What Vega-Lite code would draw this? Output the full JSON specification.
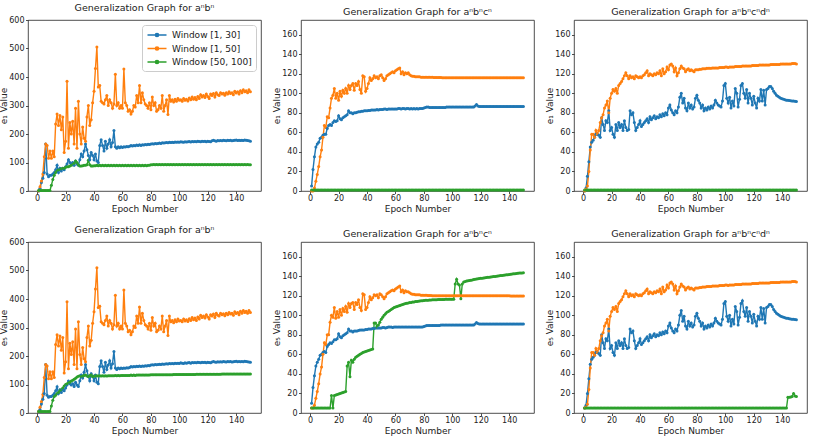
{
  "$schema": "https://vega.github.io/schema/vega-lite/v6.json",
  "background": "white",
  "padding": {"left": -1, "top": 2, "right": 4, "bottom": 0},
  "config": {
    "font": "DejaVu Sans",
    "view": {"stroke": "#222", "strokeWidth": 0.8},
    "axis": {"grid": false, "domain": false, "tickColor": "#222", "tickSize": 2.5, "tickWidth": 0.8, "labelFontSize": 8, "labelColor": "#222", "titleFontSize": 9, "titleFontWeight": "normal", "titleColor": "#222"},
    "axisX": {"labelPadding": 1, "titlePadding": 1.5},
    "axisY": {"labelPadding": 1.5, "titlePadding": 0},
    "title": {"fontSize": 9.5, "fontWeight": "normal", "color": "#222", "offset": 0, "frame": "group"}
  },
  "datasets": {
    "g": [
{"p":1,"x":1,"a":0,"b":0,"c":2},{"p":1,"x":2,"a":10,"b":15,"c":2},{"p":1,"x":3,"a":30,"b":35,"c":2},{"p":1,"x":4,"a":45,"b":60,"c":2},{"p":1,"x":5,"a":65,"b":120,"c":2},
{"p":1,"x":6,"a":165,"b":165,"c":2},{"p":1,"x":7,"a":60,"b":160,"c":2},{"p":1,"x":8,"a":50,"b":115,"c":2},{"p":1,"x":9,"a":55,"b":140,"c":2},{"p":1,"x":10,"a":55,"b":115,"c":20},
{"p":1,"x":11,"a":60,"b":140,"c":40},{"p":1,"x":12,"a":65,"b":120,"c":55},{"p":1,"x":13,"a":75,"b":235,"c":65},{"p":1,"x":14,"a":90,"b":270,"c":70},{"p":1,"x":15,"a":65,"b":230,"c":75},
{"p":1,"x":16,"a":80,"b":265,"c":75},{"p":1,"x":17,"a":70,"b":215,"c":78},{"p":1,"x":18,"a":80,"b":260,"c":80},{"p":1,"x":19,"a":75,"b":135,"c":80},{"p":1,"x":20,"a":85,"b":175,"c":83},
{"p":1,"x":21,"a":95,"b":385,"c":85},{"p":1,"x":22,"a":110,"b":150,"c":85},{"p":1,"x":23,"a":100,"b":240,"c":88},{"p":1,"x":24,"a":95,"b":200,"c":90},{"p":1,"x":25,"a":100,"b":245,"c":92},
{"p":1,"x":26,"a":90,"b":165,"c":97},{"p":1,"x":27,"a":105,"b":290,"c":105},{"p":1,"x":28,"a":95,"b":150,"c":100},{"p":1,"x":29,"a":90,"b":315,"c":92},{"p":1,"x":30,"a":110,"b":200,"c":88},
{"p":1,"x":31,"a":130,"b":165,"c":88},{"p":1,"x":32,"a":120,"b":225,"c":89},{"p":1,"x":33,"a":140,"b":185,"c":90},{"p":1,"x":34,"a":165,"b":175,"c":90},{"p":1,"x":35,"a":145,"b":260,"c":92},
{"p":1,"x":36,"a":125,"b":300,"c":108},{"p":1,"x":37,"a":110,"b":230,"c":92},{"p":1,"x":38,"a":135,"b":250,"c":88},{"p":1,"x":39,"a":125,"b":310,"c":88},{"p":1,"x":40,"a":110,"b":350,"c":89},
{"p":1,"x":41,"a":130,"b":430,"c":89},{"p":1,"x":42,"a":105,"b":505,"c":90},{"p":1,"x":43,"a":100,"b":365,"c":89},{"p":1,"x":44,"a":160,"b":370,"c":90},{"p":1,"x":45,"a":180,"b":315,"c":89},
{"p":1,"x":46,"a":160,"b":310,"c":90},{"p":1,"x":47,"a":140,"b":305,"c":89},{"p":1,"x":48,"a":175,"b":320,"c":90},{"p":1,"x":49,"a":150,"b":335,"c":89},{"p":1,"x":50,"a":165,"b":300,"c":90},
{"p":1,"x":51,"a":180,"b":320,"c":89},{"p":1,"x":52,"a":155,"b":310,"c":90},{"p":1,"x":53,"a":170,"b":290,"c":89},{"p":1,"x":54,"a":212,"b":305,"c":90},{"p":1,"x":55,"a":155,"b":410,"c":89},
{"p":1,"x":56,"a":150,"b":300,"c":90},{"p":1,"x":57,"a":155,"b":310,"c":89},{"p":1,"x":58,"a":152,"b":290,"c":90},{"p":1,"x":59,"a":155,"b":300,"c":89},{"p":1,"x":60,"a":153,"b":290,"c":90},
{"p":1,"x":61,"a":155,"b":428,"c":89},{"p":1,"x":62,"a":154,"b":310,"c":90},{"p":1,"x":63,"a":156,"b":300,"c":89},{"p":1,"x":64,"a":155,"b":280,"c":90},{"p":1,"x":65,"a":157,"b":285,"c":89},
{"p":1,"x":66,"a":160,"b":270,"c":90},{"p":1,"x":67,"a":158,"b":280,"c":89},{"p":1,"x":68,"a":160,"b":300,"c":90},{"p":1,"x":69,"a":159,"b":295,"c":89},{"p":1,"x":70,"a":161,"b":335,"c":90},
{"p":1,"x":71,"a":160,"b":310,"c":89},{"p":1,"x":72,"a":162,"b":370,"c":90},{"p":1,"x":73,"a":160,"b":310,"c":89},{"p":1,"x":74,"a":162,"b":345,"c":90},{"p":1,"x":75,"a":161,"b":320,"c":89},
{"p":1,"x":76,"a":163,"b":305,"c":90},{"p":1,"x":77,"a":162,"b":300,"c":89},{"p":1,"x":78,"a":164,"b":290,"c":90},{"p":1,"x":79,"a":163,"b":310,"c":90},{"p":1,"x":80,"a":165,"b":285,"c":92},
{"p":1,"x":81,"a":166,"b":330,"c":92},{"p":1,"x":82,"a":165,"b":300,"c":93},{"p":1,"x":83,"a":167,"b":310,"c":92},{"p":1,"x":84,"a":166,"b":280,"c":93},{"p":1,"x":85,"a":167,"b":285,"c":92},
{"p":1,"x":86,"a":168,"b":300,"c":93},{"p":1,"x":87,"a":167,"b":290,"c":92},{"p":1,"x":88,"a":169,"b":335,"c":93},{"p":1,"x":89,"a":168,"b":280,"c":92},{"p":1,"x":90,"a":169,"b":300,"c":93},
{"p":1,"x":91,"a":170,"b":320,"c":92},{"p":1,"x":92,"a":169,"b":268,"c":93},{"p":1,"x":93,"a":171,"b":335,"c":92},{"p":1,"x":94,"a":170,"b":315,"c":93},{"p":1,"x":95,"a":171,"b":320,"c":92},
{"p":1,"x":96,"a":170,"b":312,"c":93},{"p":1,"x":97,"a":172,"b":322,"c":92},{"p":1,"x":98,"a":171,"b":315,"c":93},{"p":1,"x":99,"a":172,"b":325,"c":92},{"p":1,"x":100,"a":171,"b":318,"c":93},
{"p":1,"x":101,"a":173,"b":320,"c":92},{"p":1,"x":102,"a":172,"b":315,"c":93},{"p":1,"x":103,"a":171,"b":325,"c":92},{"p":1,"x":104,"a":173,"b":318,"c":93},{"p":1,"x":105,"a":172,"b":322,"c":92},
{"p":1,"x":106,"a":173,"b":316,"c":93},{"p":1,"x":107,"a":174,"b":326,"c":92},{"p":1,"x":108,"a":172,"b":320,"c":93},{"p":1,"x":109,"a":174,"b":330,"c":92},{"p":1,"x":110,"a":173,"b":322,"c":93},
{"p":1,"x":111,"a":174,"b":328,"c":92},{"p":1,"x":112,"a":173,"b":320,"c":93},{"p":1,"x":113,"a":175,"b":332,"c":92},{"p":1,"x":114,"a":174,"b":325,"c":93},{"p":1,"x":115,"a":173,"b":338,"c":92},
{"p":1,"x":116,"a":175,"b":330,"c":93},{"p":1,"x":117,"a":174,"b":335,"c":92},{"p":1,"x":118,"a":175,"b":328,"c":93},{"p":1,"x":119,"a":173,"b":340,"c":92},{"p":1,"x":120,"a":175,"b":332,"c":93},
{"p":1,"x":121,"a":174,"b":325,"c":92},{"p":1,"x":122,"a":173,"b":340,"c":93},{"p":1,"x":123,"a":176,"b":335,"c":92},{"p":1,"x":124,"a":178,"b":342,"c":93},{"p":1,"x":125,"a":176,"b":330,"c":92},
{"p":1,"x":126,"a":175,"b":345,"c":93},{"p":1,"x":127,"a":177,"b":338,"c":92},{"p":1,"x":128,"a":176,"b":335,"c":93},{"p":1,"x":129,"a":177,"b":345,"c":92},{"p":1,"x":130,"a":176,"b":340,"c":93},
{"p":1,"x":131,"a":178,"b":343,"c":92},{"p":1,"x":132,"a":177,"b":336,"c":93},{"p":1,"x":133,"a":176,"b":345,"c":92},{"p":1,"x":134,"a":178,"b":340,"c":93},{"p":1,"x":135,"a":177,"b":348,"c":92},
{"p":1,"x":136,"a":178,"b":342,"c":93},{"p":1,"x":137,"a":176,"b":345,"c":92},{"p":1,"x":138,"a":177,"b":338,"c":93},{"p":1,"x":139,"a":178,"b":350,"c":92},{"p":1,"x":140,"a":179,"b":344,"c":93},
{"p":1,"x":141,"a":177,"b":348,"c":92},{"p":1,"x":142,"a":178,"b":340,"c":93},{"p":1,"x":143,"a":177,"b":352,"c":92},{"p":1,"x":144,"a":178,"b":345,"c":93},{"p":1,"x":145,"a":177,"b":355,"c":92},
{"p":1,"x":146,"a":179,"b":348,"c":93},{"p":1,"x":147,"a":178,"b":352,"c":92},{"p":1,"x":148,"a":177,"b":345,"c":93},{"p":1,"x":149,"a":176,"b":355,"c":92},{"p":1,"x":150,"a":175,"b":348,"c":92},

{"p":2,"x":1,"a":5,"b":0,"c":1},{"p":2,"x":2,"a":22,"b":0,"c":1},{"p":2,"x":3,"a":35,"b":3,"c":1},{"p":2,"x":4,"a":45,"b":10,"c":1},{"p":2,"x":5,"a":48,"b":17,"c":1},
{"p":2,"x":6,"a":50,"b":25,"c":1},{"p":2,"x":7,"a":54,"b":35,"c":1},{"p":2,"x":8,"a":55,"b":42,"c":1},{"p":2,"x":9,"a":57,"b":55,"c":1},{"p":2,"x":10,"a":58,"b":67,"c":1},
{"p":2,"x":11,"a":58,"b":65,"c":1},{"p":2,"x":12,"a":64,"b":76,"c":1},{"p":2,"x":13,"a":67,"b":75,"c":1},{"p":2,"x":14,"a":68,"b":85,"c":1},{"p":2,"x":15,"a":67,"b":95,"c":1},
{"p":2,"x":16,"a":70,"b":98,"c":1},{"p":2,"x":17,"a":72,"b":105,"c":1},{"p":2,"x":18,"a":71,"b":95,"c":1},{"p":2,"x":19,"a":72,"b":100,"c":1},{"p":2,"x":20,"a":77,"b":93,"c":1},
{"p":2,"x":21,"a":74,"b":102,"c":1},{"p":2,"x":22,"a":73,"b":97,"c":1},{"p":2,"x":23,"a":75,"b":103,"c":1},{"p":2,"x":24,"a":76,"b":100,"c":1},{"p":2,"x":25,"a":77,"b":105,"c":1},
{"p":2,"x":26,"a":78,"b":100,"c":1},{"p":2,"x":27,"a":82,"b":108,"c":1},{"p":2,"x":28,"a":80,"b":104,"c":1},{"p":2,"x":29,"a":80,"b":108,"c":1},{"p":2,"x":30,"a":79,"b":110,"c":1},
{"p":2,"x":31,"a":80,"b":103,"c":1},{"p":2,"x":32,"a":80,"b":110,"c":1},{"p":2,"x":33,"a":80.5,"b":108,"c":1},{"p":2,"x":34,"a":81,"b":112,"c":1},{"p":2,"x":35,"a":81,"b":104,"c":1},
{"p":2,"x":36,"a":81.5,"b":100,"c":1},{"p":2,"x":37,"a":81.5,"b":118,"c":1},{"p":2,"x":38,"a":82,"b":117,"c":1},{"p":2,"x":39,"a":82,"b":102,"c":1},{"p":2,"x":40,"a":82,"b":105,"c":1},
{"p":2,"x":41,"a":82.5,"b":110,"c":1},{"p":2,"x":42,"a":82.5,"b":116,"c":1},{"p":2,"x":43,"a":83,"b":113,"c":1},{"p":2,"x":44,"a":83,"b":115,"c":1},{"p":2,"x":45,"a":83,"b":118,"c":1},
{"p":2,"x":46,"a":83,"b":116,"c":1},{"p":2,"x":47,"a":83.5,"b":117,"c":1},{"p":2,"x":48,"a":83,"b":115,"c":1},{"p":2,"x":49,"a":83.5,"b":118,"c":1},{"p":2,"x":50,"a":83.5,"b":119,"c":1},
{"p":2,"x":51,"a":83.5,"b":116,"c":1},{"p":2,"x":52,"a":84,"b":113,"c":1},{"p":2,"x":53,"a":84,"b":115,"c":1},{"p":2,"x":54,"a":83.5,"b":118,"c":1},{"p":2,"x":55,"a":84,"b":119,"c":1},
{"p":2,"x":56,"a":84,"b":120,"c":1},{"p":2,"x":57,"a":84,"b":121,"c":1},{"p":2,"x":58,"a":84,"b":122,"c":1},{"p":2,"x":59,"a":84,"b":121,"c":1},{"p":2,"x":60,"a":84,"b":123,"c":1},
{"p":2,"x":61,"a":84,"b":124,"c":1},{"p":2,"x":62,"a":84.5,"b":125,"c":1},{"p":2,"x":63,"a":84.5,"b":126,"c":1},{"p":2,"x":64,"a":84,"b":120,"c":1},{"p":2,"x":65,"a":84.5,"b":122,"c":1},
{"p":2,"x":66,"a":84.5,"b":119,"c":1},{"p":2,"x":67,"a":84,"b":121,"c":1},{"p":2,"x":68,"a":84.5,"b":120,"c":1},{"p":2,"x":69,"a":84.5,"b":121,"c":1},{"p":2,"x":70,"a":84,"b":119,"c":1},
{"p":2,"x":71,"a":84.5,"b":118,"c":1},{"p":2,"x":72,"a":84,"b":117.5,"c":1},{"p":2,"x":73,"a":84.5,"b":117.5,"c":1},{"p":2,"x":74,"a":84,"b":117,"c":1},{"p":2,"x":75,"a":84.5,"b":117,"c":1},
{"p":2,"x":76,"a":84,"b":117,"c":1},{"p":2,"x":77,"a":84.5,"b":117,"c":1},{"p":2,"x":78,"a":84.5,"b":116.5,"c":1},{"p":2,"x":79,"a":84.5,"b":116.5,"c":1},{"p":2,"x":80,"a":85,"b":116.5,"c":1},
{"p":2,"x":81,"a":85.5,"b":116.5,"c":1},{"p":2,"x":82,"a":86,"b":116.5,"c":1},{"p":2,"x":83,"a":86,"b":116.5,"c":1},{"p":2,"x":84,"a":85.5,"b":116.5,"c":1},{"p":2,"x":85,"a":85.5,"b":116.3,"c":1},
{"p":2,"x":86,"a":85.5,"b":116.3,"c":1},{"p":2,"x":87,"a":85.5,"b":116.2,"c":1},{"p":2,"x":88,"a":85.5,"b":116.2,"c":1},{"p":2,"x":89,"a":85.5,"b":116.2,"c":1},{"p":2,"x":90,"a":85.5,"b":116.1,"c":1},
{"p":2,"x":91,"a":85.5,"b":116.1,"c":1},{"p":2,"x":92,"a":85.5,"b":116.1,"c":1},{"p":2,"x":93,"a":85.5,"b":116,"c":1},{"p":2,"x":94,"a":85.5,"b":116,"c":1},{"p":2,"x":95,"a":85.5,"b":116,"c":1},
{"p":2,"x":96,"a":86,"b":116,"c":1},{"p":2,"x":97,"a":86,"b":116,"c":1},{"p":2,"x":98,"a":86,"b":116,"c":1},{"p":2,"x":99,"a":86,"b":116,"c":1},{"p":2,"x":100,"a":86,"b":116,"c":1},
{"p":2,"x":101,"a":86,"b":116,"c":1},{"p":2,"x":102,"a":86,"b":116,"c":1},{"p":2,"x":103,"a":86,"b":116,"c":1},{"p":2,"x":104,"a":86,"b":116,"c":1},{"p":2,"x":105,"a":86,"b":116,"c":1},
{"p":2,"x":106,"a":86,"b":116,"c":1},{"p":2,"x":107,"a":86,"b":116,"c":1},{"p":2,"x":108,"a":86,"b":116,"c":1},{"p":2,"x":109,"a":86,"b":116,"c":1},{"p":2,"x":110,"a":86,"b":116,"c":1},
{"p":2,"x":111,"a":86,"b":116,"c":1},{"p":2,"x":112,"a":86,"b":116,"c":1},{"p":2,"x":113,"a":86,"b":116,"c":1},{"p":2,"x":114,"a":86,"b":116,"c":1},{"p":2,"x":115,"a":86,"b":116,"c":1},
{"p":2,"x":116,"a":87,"b":116,"c":1},{"p":2,"x":117,"a":88.5,"b":116,"c":1},{"p":2,"x":118,"a":87,"b":116,"c":1},{"p":2,"x":119,"a":86.5,"b":116,"c":1},{"p":2,"x":120,"a":86.5,"b":116,"c":1},
{"p":2,"x":121,"a":86.5,"b":116,"c":1},{"p":2,"x":122,"a":86.5,"b":116,"c":1},{"p":2,"x":123,"a":86.5,"b":116,"c":1},{"p":2,"x":124,"a":86.5,"b":116,"c":1},{"p":2,"x":125,"a":86.5,"b":116,"c":1},
{"p":2,"x":126,"a":86.5,"b":116,"c":1},{"p":2,"x":127,"a":86.5,"b":116,"c":1},{"p":2,"x":128,"a":86.5,"b":116,"c":1},{"p":2,"x":129,"a":86.5,"b":116,"c":1},{"p":2,"x":130,"a":86.5,"b":116,"c":1},
{"p":2,"x":131,"a":86.5,"b":116,"c":1},{"p":2,"x":132,"a":86.5,"b":116,"c":1},{"p":2,"x":133,"a":86.5,"b":116,"c":1},{"p":2,"x":134,"a":86.5,"b":116,"c":1},{"p":2,"x":135,"a":86.5,"b":116,"c":1},
{"p":2,"x":136,"a":86.5,"b":116,"c":1},{"p":2,"x":137,"a":86.5,"b":116,"c":1},{"p":2,"x":138,"a":86.5,"b":116,"c":1},{"p":2,"x":139,"a":86.5,"b":116,"c":1},{"p":2,"x":140,"a":86.5,"b":116,"c":1},
{"p":2,"x":141,"a":86.5,"b":116,"c":1},{"p":2,"x":142,"a":86.5,"b":116,"c":1},{"p":2,"x":143,"a":86.5,"b":115.8,"c":1},{"p":2,"x":144,"a":86.5,"b":115.8,"c":1},{"p":2,"x":145,"a":86.5,"b":115.8,"c":1},
{"p":2,"x":146,"a":86.5,"b":115.8,"c":1},{"p":2,"x":147,"a":86.5,"b":115.8,"c":1},{"p":2,"x":148,"a":86.5,"b":115.8,"c":1},{"p":2,"x":149,"a":86.5,"b":115.8,"c":1},{"p":2,"x":150,"a":86.5,"b":115.8,"c":1},

{"p":3,"x":1,"a":0,"b":0,"c":1},{"p":3,"x":2,"a":3,"b":2,"c":1},{"p":3,"x":3,"a":15,"b":5,"c":1},{"p":3,"x":4,"a":30,"b":20,"c":1},{"p":3,"x":5,"a":45,"b":42,"c":1},
{"p":3,"x":6,"a":50,"b":58,"c":1},{"p":3,"x":7,"a":52,"b":58,"c":1},{"p":3,"x":8,"a":55,"b":55,"c":1},{"p":3,"x":9,"a":58,"b":62,"c":1},{"p":3,"x":10,"a":58,"b":58,"c":1},
{"p":3,"x":11,"a":57,"b":62,"c":1},{"p":3,"x":12,"a":55,"b":70,"c":1},{"p":3,"x":13,"a":75,"b":75,"c":1},{"p":3,"x":14,"a":68,"b":78,"c":1},{"p":3,"x":15,"a":62,"b":85,"c":1},
{"p":3,"x":16,"a":72,"b":88,"c":1},{"p":3,"x":17,"a":70,"b":92,"c":1},{"p":3,"x":18,"a":82,"b":80,"c":1},{"p":3,"x":19,"a":62,"b":95,"c":1},{"p":3,"x":20,"a":65,"b":100,"c":1},
{"p":3,"x":21,"a":58,"b":104,"c":1},{"p":3,"x":22,"a":55,"b":102,"c":1},{"p":3,"x":23,"a":68,"b":105,"c":1},{"p":3,"x":24,"a":62,"b":100,"c":1},{"p":3,"x":25,"a":70,"b":108,"c":1},
{"p":3,"x":26,"a":65,"b":110,"c":1},{"p":3,"x":27,"a":68,"b":112,"c":1},{"p":3,"x":28,"a":62,"b":115,"c":1},{"p":3,"x":29,"a":72,"b":118,"c":1},{"p":3,"x":30,"a":65,"b":121,"c":1},
{"p":3,"x":31,"a":62,"b":118,"c":1},{"p":3,"x":32,"a":63,"b":115,"c":1},{"p":3,"x":33,"a":82,"b":118,"c":1},{"p":3,"x":34,"a":78,"b":116,"c":1},{"p":3,"x":35,"a":80,"b":117,"c":1},
{"p":3,"x":36,"a":70,"b":115,"c":1},{"p":3,"x":37,"a":62,"b":118,"c":1},{"p":3,"x":38,"a":65,"b":117,"c":1},{"p":3,"x":39,"a":68,"b":116,"c":1},{"p":3,"x":40,"a":72,"b":117,"c":1},
{"p":3,"x":41,"a":66,"b":116,"c":1},{"p":3,"x":42,"a":68,"b":118,"c":1},{"p":3,"x":43,"a":70,"b":119,"c":1},{"p":3,"x":44,"a":72,"b":121,"c":1},{"p":3,"x":45,"a":74,"b":123,"c":1},
{"p":3,"x":46,"a":70,"b":118,"c":1},{"p":3,"x":47,"a":76,"b":120,"c":1},{"p":3,"x":48,"a":73,"b":119,"c":1},{"p":3,"x":49,"a":75,"b":118,"c":1},{"p":3,"x":50,"a":77,"b":120,"c":1},
{"p":3,"x":51,"a":74,"b":119,"c":1},{"p":3,"x":52,"a":76,"b":121,"c":1},{"p":3,"x":53,"a":75,"b":120,"c":1},{"p":3,"x":54,"a":78,"b":123,"c":1},{"p":3,"x":55,"a":76,"b":118,"c":1},
{"p":3,"x":56,"a":79,"b":125,"c":1},{"p":3,"x":57,"a":77,"b":120,"c":1},{"p":3,"x":58,"a":80,"b":122,"c":1},{"p":3,"x":59,"a":78,"b":127,"c":1},{"p":3,"x":60,"a":85,"b":124,"c":1},
{"p":3,"x":61,"a":88,"b":129,"c":1},{"p":3,"x":62,"a":83,"b":130,"c":1},{"p":3,"x":63,"a":80,"b":128,"c":1},{"p":3,"x":64,"a":78,"b":122,"c":1},{"p":3,"x":65,"a":82,"b":126,"c":1},
{"p":3,"x":66,"a":80,"b":118,"c":1},{"p":3,"x":67,"a":86,"b":121,"c":1},{"p":3,"x":68,"a":96,"b":125,"c":1},{"p":3,"x":69,"a":100,"b":128,"c":1},{"p":3,"x":70,"a":90,"b":126,"c":1},
{"p":3,"x":71,"a":95,"b":125,"c":1},{"p":3,"x":72,"a":85,"b":122,"c":1},{"p":3,"x":73,"a":82,"b":124,"c":1},{"p":3,"x":74,"a":90,"b":125,"c":1},{"p":3,"x":75,"a":85,"b":123,"c":1},
{"p":3,"x":76,"a":88,"b":124,"c":1},{"p":3,"x":77,"a":84,"b":123,"c":1},{"p":3,"x":78,"a":86,"b":122,"c":1},{"p":3,"x":79,"a":95,"b":124,"c":1},{"p":3,"x":80,"a":98,"b":124,"c":1},
{"p":3,"x":81,"a":93,"b":124,"c":1},{"p":3,"x":82,"a":90,"b":124.5,"c":1},{"p":3,"x":83,"a":85,"b":124.5,"c":1},{"p":3,"x":84,"a":88,"b":125,"c":1},{"p":3,"x":85,"a":82,"b":125,"c":1},
{"p":3,"x":86,"a":85,"b":125,"c":1},{"p":3,"x":87,"a":83,"b":125.5,"c":1},{"p":3,"x":88,"a":86,"b":125.5,"c":1},{"p":3,"x":89,"a":84,"b":125.5,"c":1},{"p":3,"x":90,"a":87,"b":125.5,"c":1},
{"p":3,"x":91,"a":85,"b":126,"c":1},{"p":3,"x":92,"a":88,"b":126,"c":1},{"p":3,"x":93,"a":93,"b":126,"c":1},{"p":3,"x":94,"a":90,"b":126,"c":1},{"p":3,"x":95,"a":88,"b":126,"c":1},
{"p":3,"x":96,"a":87,"b":126.5,"c":1},{"p":3,"x":97,"a":86,"b":126.5,"c":1},{"p":3,"x":98,"a":92,"b":126.5,"c":1},{"p":3,"x":99,"a":108,"b":126.5,"c":1},{"p":3,"x":100,"a":110,"b":127,"c":1},
{"p":3,"x":101,"a":95,"b":127,"c":1},{"p":3,"x":102,"a":90,"b":126.5,"c":1},{"p":3,"x":103,"a":96,"b":127,"c":1},{"p":3,"x":104,"a":85,"b":127,"c":1},{"p":3,"x":105,"a":92,"b":127,"c":1},
{"p":3,"x":106,"a":87,"b":127,"c":1},{"p":3,"x":107,"a":105,"b":127.5,"c":1},{"p":3,"x":108,"a":100,"b":127.5,"c":1},{"p":3,"x":109,"a":86,"b":127.5,"c":1},{"p":3,"x":110,"a":94,"b":127.5,"c":1},
{"p":3,"x":111,"a":108,"b":127.5,"c":1},{"p":3,"x":112,"a":110,"b":128,"c":1},{"p":3,"x":113,"a":100,"b":128,"c":1},{"p":3,"x":114,"a":95,"b":128,"c":1},{"p":3,"x":115,"a":104,"b":128,"c":1},
{"p":3,"x":116,"a":90,"b":128,"c":1},{"p":3,"x":117,"a":100,"b":128,"c":1},{"p":3,"x":118,"a":95,"b":128,"c":1},{"p":3,"x":119,"a":88,"b":128.5,"c":1},{"p":3,"x":120,"a":97,"b":128.5,"c":1},
{"p":3,"x":121,"a":90,"b":128.5,"c":1},{"p":3,"x":122,"a":85,"b":128.5,"c":1},{"p":3,"x":123,"a":95,"b":128.5,"c":1},{"p":3,"x":124,"a":92,"b":129,"c":1},{"p":3,"x":125,"a":104,"b":129,"c":1},
{"p":3,"x":126,"a":92,"b":129,"c":1},{"p":3,"x":127,"a":103,"b":129,"c":1},{"p":3,"x":128,"a":88,"b":129,"c":1},{"p":3,"x":129,"a":104,"b":129,"c":1},{"p":3,"x":130,"a":105,"b":129,"c":1},
{"p":3,"x":131,"a":107,"b":129,"c":1},{"p":3,"x":132,"a":107,"b":129.5,"c":1},{"p":3,"x":133,"a":105,"b":129.5,"c":1},{"p":3,"x":134,"a":102,"b":129.5,"c":1},{"p":3,"x":135,"a":100,"b":129.5,"c":1},
{"p":3,"x":136,"a":98,"b":129.5,"c":1},{"p":3,"x":137,"a":97,"b":129.5,"c":1},{"p":3,"x":138,"a":96,"b":129.5,"c":1},{"p":3,"x":139,"a":95,"b":130,"c":1},{"p":3,"x":140,"a":94.5,"b":130,"c":1},
{"p":3,"x":141,"a":94,"b":130,"c":1},{"p":3,"x":142,"a":93.5,"b":130,"c":1},{"p":3,"x":143,"a":93,"b":130,"c":1},{"p":3,"x":144,"a":93,"b":130,"c":1},{"p":3,"x":145,"a":92.5,"b":130,"c":1},
{"p":3,"x":146,"a":92.3,"b":130,"c":1},{"p":3,"x":147,"a":92,"b":130.5,"c":1},{"p":3,"x":148,"a":92,"b":130.5,"c":1},{"p":3,"x":149,"a":91.8,"b":130.5,"c":1},{"p":3,"x":150,"a":91.5,"b":130,"c":1},

{"p":4,"x":1,"a":5,"b":5,"c":5},{"p":4,"x":2,"a":12,"b":20,"c":5},{"p":4,"x":3,"a":32,"b":40,"c":5},{"p":4,"x":4,"a":48,"b":65,"c":5},{"p":4,"x":5,"a":68,"b":125,"c":5},
{"p":4,"x":6,"a":170,"b":170,"c":5},{"p":4,"x":7,"a":62,"b":165,"c":5},{"p":4,"x":8,"a":55,"b":120,"c":5},{"p":4,"x":9,"a":58,"b":145,"c":5},{"p":4,"x":10,"a":58,"b":120,"c":25},
{"p":4,"x":11,"a":62,"b":145,"c":45},{"p":4,"x":12,"a":68,"b":125,"c":58},{"p":4,"x":13,"a":78,"b":240,"c":62},{"p":4,"x":14,"a":92,"b":275,"c":68},{"p":4,"x":15,"a":68,"b":235,"c":72},
{"p":4,"x":16,"a":82,"b":270,"c":78},{"p":4,"x":17,"a":72,"b":220,"c":82},{"p":4,"x":18,"a":83,"b":265,"c":88},{"p":4,"x":19,"a":78,"b":140,"c":95},{"p":4,"x":20,"a":88,"b":180,"c":100},
{"p":4,"x":21,"a":98,"b":390,"c":103},{"p":4,"x":22,"a":112,"b":155,"c":105},{"p":4,"x":23,"a":103,"b":245,"c":108},{"p":4,"x":24,"a":98,"b":205,"c":112},{"p":4,"x":25,"a":103,"b":250,"c":115},
{"p":4,"x":26,"a":93,"b":170,"c":118},{"p":4,"x":27,"a":108,"b":295,"c":122},{"p":4,"x":28,"a":98,"b":155,"c":126},{"p":4,"x":29,"a":93,"b":320,"c":129},{"p":4,"x":30,"a":113,"b":205,"c":131},
{"p":4,"x":31,"a":133,"b":170,"c":128},{"p":4,"x":32,"a":123,"b":230,"c":130},{"p":4,"x":33,"a":143,"b":190,"c":132},{"p":4,"x":34,"a":170,"b":180,"c":133},{"p":4,"x":35,"a":148,"b":265,"c":130},
{"p":4,"x":36,"a":128,"b":305,"c":128},{"p":4,"x":37,"a":113,"b":235,"c":132},{"p":4,"x":38,"a":138,"b":255,"c":133},{"p":4,"x":39,"a":128,"b":315,"c":128},{"p":4,"x":40,"a":113,"b":355,"c":130},
{"p":4,"x":41,"a":133,"b":435,"c":130},{"p":4,"x":42,"a":108,"b":510,"c":131},{"p":4,"x":43,"a":103,"b":370,"c":130},{"p":4,"x":44,"a":163,"b":375,"c":131},{"p":4,"x":45,"a":183,"b":320,"c":130},
{"p":4,"x":46,"a":163,"b":315,"c":131},{"p":4,"x":47,"a":143,"b":310,"c":130},{"p":4,"x":48,"a":178,"b":325,"c":131},{"p":4,"x":49,"a":153,"b":340,"c":130},{"p":4,"x":50,"a":168,"b":305,"c":131},
{"p":4,"x":51,"a":183,"b":325,"c":131},{"p":4,"x":52,"a":158,"b":315,"c":131},{"p":4,"x":53,"a":173,"b":295,"c":131},{"p":4,"x":54,"a":216,"b":310,"c":131},{"p":4,"x":55,"a":158,"b":413,"c":132},
{"p":4,"x":56,"a":153,"b":305,"c":131},{"p":4,"x":57,"a":158,"b":315,"c":132},{"p":4,"x":58,"a":155,"b":295,"c":131},{"p":4,"x":59,"a":158,"b":305,"c":132},{"p":4,"x":60,"a":156,"b":295,"c":132},
{"p":4,"x":61,"a":158,"b":432,"c":132},{"p":4,"x":62,"a":157,"b":315,"c":132},{"p":4,"x":63,"a":159,"b":305,"c":132},{"p":4,"x":64,"a":158,"b":285,"c":132},{"p":4,"x":65,"a":160,"b":290,"c":132},
{"p":4,"x":66,"a":163,"b":275,"c":133},{"p":4,"x":67,"a":161,"b":285,"c":132},{"p":4,"x":68,"a":163,"b":305,"c":133},{"p":4,"x":69,"a":162,"b":300,"c":132},{"p":4,"x":70,"a":164,"b":340,"c":133},
{"p":4,"x":71,"a":163,"b":315,"c":133},{"p":4,"x":72,"a":165,"b":372,"c":133},{"p":4,"x":73,"a":163,"b":315,"c":133},{"p":4,"x":74,"a":165,"b":350,"c":133},{"p":4,"x":75,"a":164,"b":325,"c":133},
{"p":4,"x":76,"a":166,"b":310,"c":133},{"p":4,"x":77,"a":165,"b":305,"c":133},{"p":4,"x":78,"a":167,"b":295,"c":133},{"p":4,"x":79,"a":166,"b":315,"c":133},{"p":4,"x":80,"a":168,"b":290,"c":134},
{"p":4,"x":81,"a":169,"b":335,"c":134},{"p":4,"x":82,"a":168,"b":305,"c":134},{"p":4,"x":83,"a":170,"b":315,"c":134},{"p":4,"x":84,"a":169,"b":285,"c":134},{"p":4,"x":85,"a":170,"b":290,"c":134},
{"p":4,"x":86,"a":171,"b":305,"c":134},{"p":4,"x":87,"a":170,"b":295,"c":134},{"p":4,"x":88,"a":172,"b":340,"c":134},{"p":4,"x":89,"a":171,"b":285,"c":134},{"p":4,"x":90,"a":172,"b":305,"c":134},
{"p":4,"x":91,"a":173,"b":325,"c":134},{"p":4,"x":92,"a":172,"b":272,"c":134},{"p":4,"x":93,"a":174,"b":340,"c":134},{"p":4,"x":94,"a":173,"b":320,"c":134},{"p":4,"x":95,"a":174,"b":325,"c":134},
{"p":4,"x":96,"a":173,"b":317,"c":135},{"p":4,"x":97,"a":175,"b":327,"c":135},{"p":4,"x":98,"a":174,"b":320,"c":135},{"p":4,"x":99,"a":175,"b":330,"c":135},{"p":4,"x":100,"a":174,"b":323,"c":135},
{"p":4,"x":101,"a":176,"b":325,"c":135},{"p":4,"x":102,"a":175,"b":320,"c":135},{"p":4,"x":103,"a":174,"b":330,"c":135},{"p":4,"x":104,"a":176,"b":323,"c":135},{"p":4,"x":105,"a":175,"b":327,"c":135},
{"p":4,"x":106,"a":176,"b":321,"c":135},{"p":4,"x":107,"a":177,"b":331,"c":135},{"p":4,"x":108,"a":175,"b":325,"c":135},{"p":4,"x":109,"a":177,"b":335,"c":135},{"p":4,"x":110,"a":176,"b":327,"c":135},
{"p":4,"x":111,"a":177,"b":333,"c":135},{"p":4,"x":112,"a":176,"b":325,"c":136},{"p":4,"x":113,"a":178,"b":337,"c":136},{"p":4,"x":114,"a":177,"b":330,"c":136},{"p":4,"x":115,"a":176,"b":343,"c":136},
{"p":4,"x":116,"a":178,"b":335,"c":136},{"p":4,"x":117,"a":177,"b":340,"c":136},{"p":4,"x":118,"a":178,"b":333,"c":136},{"p":4,"x":119,"a":176,"b":345,"c":136},{"p":4,"x":120,"a":178,"b":337,"c":136},
{"p":4,"x":121,"a":177,"b":330,"c":136},{"p":4,"x":122,"a":176,"b":345,"c":136},{"p":4,"x":123,"a":179,"b":340,"c":136},{"p":4,"x":124,"a":181,"b":347,"c":136},{"p":4,"x":125,"a":179,"b":335,"c":136},
{"p":4,"x":126,"a":178,"b":350,"c":136},{"p":4,"x":127,"a":180,"b":343,"c":136},{"p":4,"x":128,"a":179,"b":340,"c":136},{"p":4,"x":129,"a":180,"b":350,"c":136},{"p":4,"x":130,"a":179,"b":345,"c":137},
{"p":4,"x":131,"a":181,"b":348,"c":137},{"p":4,"x":132,"a":180,"b":341,"c":137},{"p":4,"x":133,"a":179,"b":350,"c":137},{"p":4,"x":134,"a":181,"b":345,"c":137},{"p":4,"x":135,"a":180,"b":353,"c":137},
{"p":4,"x":136,"a":181,"b":347,"c":137},{"p":4,"x":137,"a":179,"b":350,"c":137},{"p":4,"x":138,"a":180,"b":343,"c":137},{"p":4,"x":139,"a":181,"b":355,"c":137},{"p":4,"x":140,"a":182,"b":349,"c":137},
{"p":4,"x":141,"a":180,"b":353,"c":137},{"p":4,"x":142,"a":181,"b":345,"c":137},{"p":4,"x":143,"a":180,"b":357,"c":137},{"p":4,"x":144,"a":181,"b":350,"c":137},{"p":4,"x":145,"a":180,"b":360,"c":137},
{"p":4,"x":146,"a":182,"b":353,"c":137},{"p":4,"x":147,"a":181,"b":357,"c":137},{"p":4,"x":148,"a":180,"b":350,"c":137},{"p":4,"x":149,"a":179,"b":360,"c":137},{"p":4,"x":150,"a":178,"b":353,"c":137},

{"p":5,"x":1,"a":10,"b":5,"c":5},{"p":5,"x":2,"a":26,"b":5,"c":5},{"p":5,"x":3,"a":38,"b":8,"c":5},{"p":5,"x":4,"a":48,"b":15,"c":5},{"p":5,"x":5,"a":52,"b":22,"c":5},
{"p":5,"x":6,"a":55,"b":30,"c":5},{"p":5,"x":7,"a":59,"b":40,"c":5},{"p":5,"x":8,"a":60,"b":47,"c":5},{"p":5,"x":9,"a":62,"b":60,"c":5},{"p":5,"x":10,"a":63,"b":72,"c":5},
{"p":5,"x":11,"a":62,"b":70,"c":5},{"p":5,"x":12,"a":68,"b":80,"c":5},{"p":5,"x":13,"a":70,"b":80,"c":5},{"p":5,"x":14,"a":72,"b":93,"c":5},{"p":5,"x":15,"a":71,"b":100,"c":18},
{"p":5,"x":16,"a":73,"b":98,"c":5},{"p":5,"x":17,"a":75,"b":108,"c":18},{"p":5,"x":18,"a":75,"b":97,"c":18.5},{"p":5,"x":19,"a":76,"b":104,"c":19},{"p":5,"x":20,"a":81,"b":98,"c":19.5},
{"p":5,"x":21,"a":78,"b":106,"c":20},{"p":5,"x":22,"a":77,"b":100,"c":20.5},{"p":5,"x":23,"a":79,"b":107,"c":21},{"p":5,"x":24,"a":80,"b":104,"c":21.5},{"p":5,"x":25,"a":81,"b":109,"c":22},
{"p":5,"x":26,"a":82,"b":103,"c":48},{"p":5,"x":27,"a":86,"b":112,"c":52},{"p":5,"x":28,"a":84,"b":108,"c":37},{"p":5,"x":29,"a":84,"b":112,"c":54},{"p":5,"x":30,"a":83,"b":113,"c":52},
{"p":5,"x":31,"a":84,"b":106,"c":55},{"p":5,"x":32,"a":84,"b":113,"c":57},{"p":5,"x":33,"a":84,"b":111,"c":58},{"p":5,"x":34,"a":84.5,"b":116,"c":59},{"p":5,"x":35,"a":85,"b":108,"c":60},
{"p":5,"x":36,"a":85,"b":105,"c":61},{"p":5,"x":37,"a":85,"b":122,"c":62},{"p":5,"x":38,"a":85,"b":121,"c":62.5},{"p":5,"x":39,"a":85.5,"b":106,"c":63},{"p":5,"x":40,"a":85.5,"b":108,"c":63.5},
{"p":5,"x":41,"a":86,"b":113,"c":64},{"p":5,"x":42,"a":86,"b":119,"c":64.5},{"p":5,"x":43,"a":86,"b":116,"c":65},{"p":5,"x":44,"a":86.5,"b":118,"c":65.5},{"p":5,"x":45,"a":86.5,"b":121,"c":92},
{"p":5,"x":46,"a":87,"b":120,"c":92},{"p":5,"x":47,"a":87,"b":121,"c":88},{"p":5,"x":48,"a":87,"b":118,"c":90},{"p":5,"x":49,"a":87,"b":122,"c":93},{"p":5,"x":50,"a":87,"b":121,"c":96},
{"p":5,"x":51,"a":87.5,"b":119,"c":98},{"p":5,"x":52,"a":87.5,"b":117,"c":100},{"p":5,"x":53,"a":87,"b":119,"c":101.5},{"p":5,"x":54,"a":87.5,"b":122,"c":103},{"p":5,"x":55,"a":88,"b":123,"c":104},
{"p":5,"x":56,"a":88,"b":124,"c":105},{"p":5,"x":57,"a":88,"b":125,"c":106},{"p":5,"x":58,"a":87.5,"b":126,"c":107},{"p":5,"x":59,"a":88,"b":125,"c":108},{"p":5,"x":60,"a":88,"b":127,"c":108.5},
{"p":5,"x":61,"a":88,"b":128,"c":109},{"p":5,"x":62,"a":88,"b":129,"c":109.5},{"p":5,"x":63,"a":88,"b":130,"c":110},{"p":5,"x":64,"a":88,"b":124,"c":110.5},{"p":5,"x":65,"a":88,"b":126,"c":111},
{"p":5,"x":66,"a":88,"b":123,"c":111.5},{"p":5,"x":67,"a":88,"b":125,"c":112},{"p":5,"x":68,"a":88,"b":124,"c":112.3},{"p":5,"x":69,"a":88,"b":124,"c":112.6},{"p":5,"x":70,"a":88,"b":123,"c":113},
{"p":5,"x":71,"a":88,"b":122,"c":113.2},{"p":5,"x":72,"a":88,"b":121.5,"c":113.5},{"p":5,"x":73,"a":88,"b":121.5,"c":113.7},{"p":5,"x":74,"a":88,"b":121,"c":114},{"p":5,"x":75,"a":88,"b":121,"c":114.2},
{"p":5,"x":76,"a":88,"b":121,"c":114.4},{"p":5,"x":77,"a":88,"b":121,"c":114.6},{"p":5,"x":78,"a":88,"b":120.5,"c":114.8},{"p":5,"x":79,"a":88,"b":120.5,"c":115},{"p":5,"x":80,"a":88.5,"b":120.5,"c":115.2},
{"p":5,"x":81,"a":89,"b":120.5,"c":115.3},{"p":5,"x":82,"a":89.5,"b":120.5,"c":115.4},{"p":5,"x":83,"a":89.5,"b":120.3,"c":115.5},{"p":5,"x":84,"a":89.5,"b":120.2,"c":115.6},{"p":5,"x":85,"a":89.5,"b":120.2,"c":115.7},
{"p":5,"x":86,"a":89.5,"b":120.1,"c":115.8},{"p":5,"x":87,"a":89.5,"b":120.1,"c":115.9},{"p":5,"x":88,"a":89.5,"b":120,"c":116},{"p":5,"x":89,"a":89.5,"b":120,"c":116},{"p":5,"x":90,"a":89.5,"b":120,"c":116.1},
{"p":5,"x":91,"a":89.5,"b":120,"c":116.1},{"p":5,"x":92,"a":90,"b":120,"c":116.2},{"p":5,"x":93,"a":90,"b":120,"c":116.2},{"p":5,"x":94,"a":90,"b":120,"c":116.2},{"p":5,"x":95,"a":90,"b":120,"c":116.3},
{"p":5,"x":96,"a":90,"b":120,"c":116.3},{"p":5,"x":97,"a":90,"b":120,"c":116.3},{"p":5,"x":98,"a":90,"b":120,"c":116.4},{"p":5,"x":99,"a":90,"b":120,"c":116.4},{"p":5,"x":100,"a":90,"b":120,"c":116.4},
{"p":5,"x":101,"a":90,"b":120,"c":116.5},{"p":5,"x":102,"a":90,"b":120,"c":132},{"p":5,"x":103,"a":90,"b":120,"c":137},{"p":5,"x":104,"a":90,"b":120,"c":132},{"p":5,"x":105,"a":90,"b":120,"c":131},
{"p":5,"x":106,"a":90,"b":120,"c":117},{"p":5,"x":107,"a":90,"b":120,"c":132},{"p":5,"x":108,"a":90,"b":120,"c":134},{"p":5,"x":109,"a":90,"b":120,"c":134.5},{"p":5,"x":110,"a":90,"b":120,"c":135},
{"p":5,"x":111,"a":90,"b":120,"c":135.3},{"p":5,"x":112,"a":90,"b":120,"c":135.6},{"p":5,"x":113,"a":90,"b":120,"c":135.9},{"p":5,"x":114,"a":90,"b":120,"c":136.2},{"p":5,"x":115,"a":90,"b":120,"c":136.5},
{"p":5,"x":116,"a":91,"b":120,"c":136.8},{"p":5,"x":117,"a":92.5,"b":120,"c":137.1},{"p":5,"x":118,"a":91.5,"b":120,"c":137.4},{"p":5,"x":119,"a":91,"b":120,"c":137.6},{"p":5,"x":120,"a":91,"b":120,"c":137.8},
{"p":5,"x":121,"a":91,"b":120,"c":138},{"p":5,"x":122,"a":91,"b":120,"c":138.2},{"p":5,"x":123,"a":91,"b":120,"c":138.4},{"p":5,"x":124,"a":91,"b":120,"c":138.6},{"p":5,"x":125,"a":91,"b":120,"c":138.8},
{"p":5,"x":126,"a":91,"b":120,"c":139},{"p":5,"x":127,"a":91,"b":120,"c":139.2},{"p":5,"x":128,"a":91,"b":120,"c":139.4},{"p":5,"x":129,"a":91,"b":120,"c":139.6},{"p":5,"x":130,"a":91,"b":120,"c":139.8},
{"p":5,"x":131,"a":91,"b":120,"c":140},{"p":5,"x":132,"a":91,"b":120,"c":140.2},{"p":5,"x":133,"a":91,"b":120,"c":140.4},{"p":5,"x":134,"a":91,"b":120,"c":140.6},{"p":5,"x":135,"a":91,"b":120,"c":140.8},
{"p":5,"x":136,"a":91,"b":120,"c":141},{"p":5,"x":137,"a":91,"b":120,"c":141.2},{"p":5,"x":138,"a":91,"b":120,"c":141.4},{"p":5,"x":139,"a":91,"b":120,"c":141.6},{"p":5,"x":140,"a":91,"b":120,"c":141.8},
{"p":5,"x":141,"a":91,"b":119.8,"c":142},{"p":5,"x":142,"a":91,"b":119.8,"c":142.2},{"p":5,"x":143,"a":91,"b":119.8,"c":142.4},{"p":5,"x":144,"a":91,"b":119.8,"c":142.6},{"p":5,"x":145,"a":91,"b":119.8,"c":142.8},
{"p":5,"x":146,"a":91,"b":119.8,"c":143},{"p":5,"x":147,"a":91,"b":119.8,"c":143.2},{"p":5,"x":148,"a":91,"b":119.8,"c":143.3},{"p":5,"x":149,"a":91,"b":119.8,"c":143.4},{"p":5,"x":150,"a":91,"b":119.8,"c":143.5},

{"p":6,"x":1,"a":5,"b":5,"c":5},{"p":6,"x":2,"a":8,"b":6,"c":5},{"p":6,"x":3,"a":20,"b":9,"c":5},{"p":6,"x":4,"a":35,"b":24,"c":5},{"p":6,"x":5,"a":50,"b":46,"c":5},
{"p":6,"x":6,"a":55,"b":62,"c":5},{"p":6,"x":7,"a":57,"b":62,"c":5},{"p":6,"x":8,"a":59,"b":59,"c":5},{"p":6,"x":9,"a":62,"b":66,"c":5},{"p":6,"x":10,"a":62,"b":62,"c":5},
{"p":6,"x":11,"a":61,"b":66,"c":5},{"p":6,"x":12,"a":59,"b":74,"c":5},{"p":6,"x":13,"a":80,"b":79,"c":5},{"p":6,"x":14,"a":72,"b":82,"c":5},{"p":6,"x":15,"a":66,"b":89,"c":5},
{"p":6,"x":16,"a":76,"b":92,"c":5},{"p":6,"x":17,"a":74,"b":96,"c":5},{"p":6,"x":18,"a":86,"b":84,"c":5},{"p":6,"x":19,"a":66,"b":99,"c":5},{"p":6,"x":20,"a":69,"b":104,"c":5},
{"p":6,"x":21,"a":62,"b":108,"c":5},{"p":6,"x":22,"a":59,"b":106,"c":5},{"p":6,"x":23,"a":72,"b":109,"c":5},{"p":6,"x":24,"a":66,"b":104,"c":5},{"p":6,"x":25,"a":74,"b":112,"c":5},
{"p":6,"x":26,"a":69,"b":114,"c":5},{"p":6,"x":27,"a":72,"b":116,"c":5},{"p":6,"x":28,"a":66,"b":119,"c":5},{"p":6,"x":29,"a":76,"b":122,"c":5},{"p":6,"x":30,"a":69,"b":125,"c":5},
{"p":6,"x":31,"a":66,"b":122,"c":5},{"p":6,"x":32,"a":67,"b":119,"c":5},{"p":6,"x":33,"a":86,"b":122,"c":5},{"p":6,"x":34,"a":82,"b":120,"c":5},{"p":6,"x":35,"a":84,"b":121,"c":5},
{"p":6,"x":36,"a":74,"b":119,"c":5},{"p":6,"x":37,"a":66,"b":122,"c":5},{"p":6,"x":38,"a":69,"b":121,"c":5},{"p":6,"x":39,"a":72,"b":120,"c":5},{"p":6,"x":40,"a":76,"b":121,"c":5},
{"p":6,"x":41,"a":70,"b":120,"c":5},{"p":6,"x":42,"a":72,"b":122,"c":5},{"p":6,"x":43,"a":74,"b":123,"c":5},{"p":6,"x":44,"a":76,"b":125,"c":5},{"p":6,"x":45,"a":78,"b":127,"c":5},
{"p":6,"x":46,"a":74,"b":122,"c":5},{"p":6,"x":47,"a":80,"b":124,"c":5},{"p":6,"x":48,"a":77,"b":123,"c":5},{"p":6,"x":49,"a":79,"b":122,"c":5},{"p":6,"x":50,"a":81,"b":124,"c":5},
{"p":6,"x":51,"a":78,"b":123,"c":5},{"p":6,"x":52,"a":80,"b":125,"c":5},{"p":6,"x":53,"a":79,"b":124,"c":5},{"p":6,"x":54,"a":82,"b":127,"c":5},{"p":6,"x":55,"a":80,"b":122,"c":5},
{"p":6,"x":56,"a":83,"b":129,"c":5},{"p":6,"x":57,"a":81,"b":124,"c":5},{"p":6,"x":58,"a":84,"b":126,"c":5},{"p":6,"x":59,"a":82,"b":131,"c":5},{"p":6,"x":60,"a":89,"b":128,"c":5},
{"p":6,"x":61,"a":92,"b":133,"c":5},{"p":6,"x":62,"a":87,"b":134,"c":5},{"p":6,"x":63,"a":84,"b":132,"c":5},{"p":6,"x":64,"a":82,"b":126,"c":5},{"p":6,"x":65,"a":86,"b":130,"c":5},
{"p":6,"x":66,"a":84,"b":122,"c":5},{"p":6,"x":67,"a":90,"b":125,"c":5},{"p":6,"x":68,"a":100,"b":129,"c":5},{"p":6,"x":69,"a":105,"b":132,"c":5},{"p":6,"x":70,"a":94,"b":130,"c":5},
{"p":6,"x":71,"a":99,"b":129,"c":5},{"p":6,"x":72,"a":89,"b":126,"c":5},{"p":6,"x":73,"a":86,"b":128,"c":5},{"p":6,"x":74,"a":94,"b":129,"c":5},{"p":6,"x":75,"a":89,"b":127,"c":5},
{"p":6,"x":76,"a":92,"b":128,"c":5},{"p":6,"x":77,"a":88,"b":127,"c":5},{"p":6,"x":78,"a":90,"b":126,"c":5},{"p":6,"x":79,"a":99,"b":128,"c":5},{"p":6,"x":80,"a":102,"b":128,"c":5},
{"p":6,"x":81,"a":97,"b":128,"c":5},{"p":6,"x":82,"a":94,"b":128.5,"c":5},{"p":6,"x":83,"a":89,"b":128.5,"c":5},{"p":6,"x":84,"a":92,"b":129,"c":5},{"p":6,"x":85,"a":86,"b":129,"c":5},
{"p":6,"x":86,"a":89,"b":129,"c":5},{"p":6,"x":87,"a":87,"b":129.5,"c":5},{"p":6,"x":88,"a":90,"b":129.5,"c":5},{"p":6,"x":89,"a":88,"b":129.5,"c":5},{"p":6,"x":90,"a":91,"b":129.5,"c":5},
{"p":6,"x":91,"a":89,"b":130,"c":5},{"p":6,"x":92,"a":92,"b":130,"c":5},{"p":6,"x":93,"a":97,"b":130,"c":5},{"p":6,"x":94,"a":94,"b":130,"c":5},{"p":6,"x":95,"a":92,"b":130,"c":5},
{"p":6,"x":96,"a":91,"b":130.5,"c":5},{"p":6,"x":97,"a":90,"b":130.5,"c":5},{"p":6,"x":98,"a":96,"b":130.5,"c":5},{"p":6,"x":99,"a":112,"b":130.5,"c":5},{"p":6,"x":100,"a":114,"b":131,"c":5},
{"p":6,"x":101,"a":99,"b":131,"c":5},{"p":6,"x":102,"a":94,"b":130.5,"c":5},{"p":6,"x":103,"a":100,"b":131,"c":5},{"p":6,"x":104,"a":89,"b":131,"c":5},{"p":6,"x":105,"a":96,"b":131,"c":5},
{"p":6,"x":106,"a":91,"b":131,"c":5},{"p":6,"x":107,"a":109,"b":131.5,"c":5},{"p":6,"x":108,"a":104,"b":131.5,"c":5},{"p":6,"x":109,"a":90,"b":131.5,"c":5},{"p":6,"x":110,"a":98,"b":131.5,"c":5},
{"p":6,"x":111,"a":112,"b":131.5,"c":5},{"p":6,"x":112,"a":115,"b":132,"c":5},{"p":6,"x":113,"a":104,"b":132,"c":5},{"p":6,"x":114,"a":99,"b":132,"c":5},{"p":6,"x":115,"a":108,"b":132,"c":5},
{"p":6,"x":116,"a":94,"b":132,"c":5},{"p":6,"x":117,"a":104,"b":132,"c":5},{"p":6,"x":118,"a":99,"b":132,"c":5},{"p":6,"x":119,"a":92,"b":132.5,"c":5},{"p":6,"x":120,"a":101,"b":132.5,"c":5},
{"p":6,"x":121,"a":94,"b":132.5,"c":5},{"p":6,"x":122,"a":89,"b":132.5,"c":5},{"p":6,"x":123,"a":99,"b":132.5,"c":5},{"p":6,"x":124,"a":96,"b":133,"c":5},{"p":6,"x":125,"a":108,"b":133,"c":5},
{"p":6,"x":126,"a":96,"b":133,"c":5},{"p":6,"x":127,"a":107,"b":133,"c":5},{"p":6,"x":128,"a":92,"b":133,"c":5},{"p":6,"x":129,"a":108,"b":133,"c":5},{"p":6,"x":130,"a":109,"b":133,"c":5},
{"p":6,"x":131,"a":111,"b":133,"c":5},{"p":6,"x":132,"a":111,"b":133.5,"c":5},{"p":6,"x":133,"a":109,"b":133.5,"c":5},{"p":6,"x":134,"a":106,"b":133.5,"c":5},{"p":6,"x":135,"a":104,"b":133.5,"c":5},
{"p":6,"x":136,"a":102,"b":133.5,"c":5},{"p":6,"x":137,"a":101,"b":133.5,"c":5},{"p":6,"x":138,"a":100,"b":133.5,"c":5},{"p":6,"x":139,"a":99,"b":134,"c":5},{"p":6,"x":140,"a":98.5,"b":134,"c":5},
{"p":6,"x":141,"a":98,"b":134,"c":5},{"p":6,"x":142,"a":97.5,"b":134,"c":5},{"p":6,"x":143,"a":97,"b":134,"c":5},{"p":6,"x":144,"a":97,"b":134,"c":16},{"p":6,"x":145,"a":96.5,"b":134,"c":16},
{"p":6,"x":146,"a":96.3,"b":134,"c":16.5},{"p":6,"x":147,"a":96,"b":134.5,"c":17},{"p":6,"x":148,"a":96,"b":134.5,"c":20},{"p":6,"x":149,"a":95.8,"b":134.5,"c":17.5},{"p":6,"x":150,"a":95.5,"b":134,"c":17}
    ]
  },
  "columns": 3,
  "bounds": "flush",
  "spacing": {"row": 51, "column": 40},
  "resolve": {"scale": {"y": "independent", "x": "independent", "color": "shared"}, "legend": {"color": "independent"}},
  "concat": [
    {
      "title": "Generalization Graph for aⁿbⁿ",
      "width": 233, "height": 171,
      "data": {"name": "g"},
      "transform": [{"filter": "datum.p == 1"}, {"fold": ["a", "b", "c"], "as": ["s", "y"]}],
      "mark": {"type": "line", "strokeWidth": 1.4, "point": {"filled": true, "size": 9}},
      "encoding": {
        "x": {"field": "x", "type": "quantitative", "scale": {"domain": [-6.45, 157.45], "nice": false, "zero": false}, "axis": {"values": [0, 20, 40, 60, 80, 100, 120, 140], "title": "Epoch Number"}},
        "y": {"field": "y", "type": "quantitative", "scale": {"domain": [0, 600], "nice": false}, "axis": {"values": [0, 100, 200, 300, 400, 500, 600], "title": "e₁ Value"}},
        "color": {"field": "s", "type": "nominal", "scale": {"domain": ["a", "b", "c"], "range": ["#1f77b4", "#ff7f0e", "#2ca02c"]},
          "legend": {"orient": "top-right", "title": null, "offset": 5, "padding": 4, "cornerRadius": 3, "strokeColor": "#cccccc", "fillColor": "white",
            "symbolType": "M-1.9,0H1.9M0.32,0A0.32,0.32,0,1,1,-0.32,0A0.32,0.32,0,1,1,0.32,0", "symbolSize": 100, "symbolStrokeWidth": 1.5, "symbolOffset": 5,
            "labelFontSize": 9, "labelColor": "#222", "rowPadding": 2.5, "labelOffset": 9,
            "encode": {"symbols": {"update": {"fill": {"scale": "color", "field": "value"}}}},
            "labelExpr": "datum.label == 'a' ? 'Window [1, 30]' : datum.label == 'b' ? 'Window [1, 50]' : 'Window [50, 100]'"}}
      }
    },
    {
      "title": "Generalization Graph for aⁿbⁿcⁿ",
      "width": 233, "height": 171,
      "data": {"name": "g"},
      "transform": [{"filter": "datum.p == 2"}, {"fold": ["a", "b", "c"], "as": ["s", "y"]}],
      "mark": {"type": "line", "strokeWidth": 1.4, "point": {"filled": true, "size": 9}},
      "encoding": {
        "x": {"field": "x", "type": "quantitative", "scale": {"domain": [-6.45, 157.45], "nice": false, "zero": false}, "axis": {"values": [0, 20, 40, 60, 80, 100, 120, 140], "title": "Epoch Number"}},
        "y": {"field": "y", "type": "quantitative", "scale": {"domain": [0, 175], "nice": false}, "axis": {"values": [0, 20, 40, 60, 80, 100, 120, 140, 160], "title": "e₁ Value"}},
        "color": {"field": "s", "type": "nominal", "scale": {"domain": ["a", "b", "c"], "range": ["#1f77b4", "#ff7f0e", "#2ca02c"]}, "legend": null}
      }
    },
    {
      "title": "Generalization Graph for aⁿbⁿcⁿdⁿ",
      "width": 233, "height": 171,
      "data": {"name": "g"},
      "transform": [{"filter": "datum.p == 3"}, {"fold": ["a", "b", "c"], "as": ["s", "y"]}],
      "mark": {"type": "line", "strokeWidth": 1.4, "point": {"filled": true, "size": 9}},
      "encoding": {
        "x": {"field": "x", "type": "quantitative", "scale": {"domain": [-6.45, 157.45], "nice": false, "zero": false}, "axis": {"values": [0, 20, 40, 60, 80, 100, 120, 140], "title": "Epoch Number"}},
        "y": {"field": "y", "type": "quantitative", "scale": {"domain": [0, 175], "nice": false}, "axis": {"values": [0, 20, 40, 60, 80, 100, 120, 140, 160], "title": "e₁ Value"}},
        "color": {"field": "s", "type": "nominal", "scale": {"domain": ["a", "b", "c"], "range": ["#1f77b4", "#ff7f0e", "#2ca02c"]}, "legend": null}
      }
    },
    {
      "title": "Generalization Graph for aⁿbⁿ",
      "width": 233, "height": 171,
      "data": {"name": "g"},
      "transform": [{"filter": "datum.p == 4"}, {"fold": ["a", "b", "c"], "as": ["s", "y"]}],
      "mark": {"type": "line", "strokeWidth": 1.4, "point": {"filled": true, "size": 9}},
      "encoding": {
        "x": {"field": "x", "type": "quantitative", "scale": {"domain": [-6.45, 157.45], "nice": false, "zero": false}, "axis": {"values": [0, 20, 40, 60, 80, 100, 120, 140], "title": "Epoch Number"}},
        "y": {"field": "y", "type": "quantitative", "scale": {"domain": [0, 600], "nice": false}, "axis": {"values": [0, 100, 200, 300, 400, 500, 600], "title": "e₅ Value"}},
        "color": {"field": "s", "type": "nominal", "scale": {"domain": ["a", "b", "c"], "range": ["#1f77b4", "#ff7f0e", "#2ca02c"]}, "legend": null}
      }
    },
    {
      "title": "Generalization Graph for aⁿbⁿcⁿ",
      "width": 233, "height": 171,
      "data": {"name": "g"},
      "transform": [{"filter": "datum.p == 5"}, {"fold": ["a", "b", "c"], "as": ["s", "y"]}],
      "mark": {"type": "line", "strokeWidth": 1.4, "point": {"filled": true, "size": 9}},
      "encoding": {
        "x": {"field": "x", "type": "quantitative", "scale": {"domain": [-6.45, 157.45], "nice": false, "zero": false}, "axis": {"values": [0, 20, 40, 60, 80, 100, 120, 140], "title": "Epoch Number"}},
        "y": {"field": "y", "type": "quantitative", "scale": {"domain": [0, 175], "nice": false}, "axis": {"values": [0, 20, 40, 60, 80, 100, 120, 140, 160], "title": "e₅ Value"}},
        "color": {"field": "s", "type": "nominal", "scale": {"domain": ["a", "b", "c"], "range": ["#1f77b4", "#ff7f0e", "#2ca02c"]}, "legend": null}
      }
    },
    {
      "title": "Generalization Graph for aⁿbⁿcⁿdⁿ",
      "width": 233, "height": 171,
      "data": {"name": "g"},
      "transform": [{"filter": "datum.p == 6"}, {"fold": ["a", "b", "c"], "as": ["s", "y"]}],
      "mark": {"type": "line", "strokeWidth": 1.4, "point": {"filled": true, "size": 9}},
      "encoding": {
        "x": {"field": "x", "type": "quantitative", "scale": {"domain": [-6.45, 157.45], "nice": false, "zero": false}, "axis": {"values": [0, 20, 40, 60, 80, 100, 120, 140], "title": "Epoch Number"}},
        "y": {"field": "y", "type": "quantitative", "scale": {"domain": [0, 175], "nice": false}, "axis": {"values": [0, 20, 40, 60, 80, 100, 120, 140, 160], "title": "e₅ Value"}},
        "color": {"field": "s", "type": "nominal", "scale": {"domain": ["a", "b", "c"], "range": ["#1f77b4", "#ff7f0e", "#2ca02c"]}, "legend": null}
      }
    }
  ]
}
